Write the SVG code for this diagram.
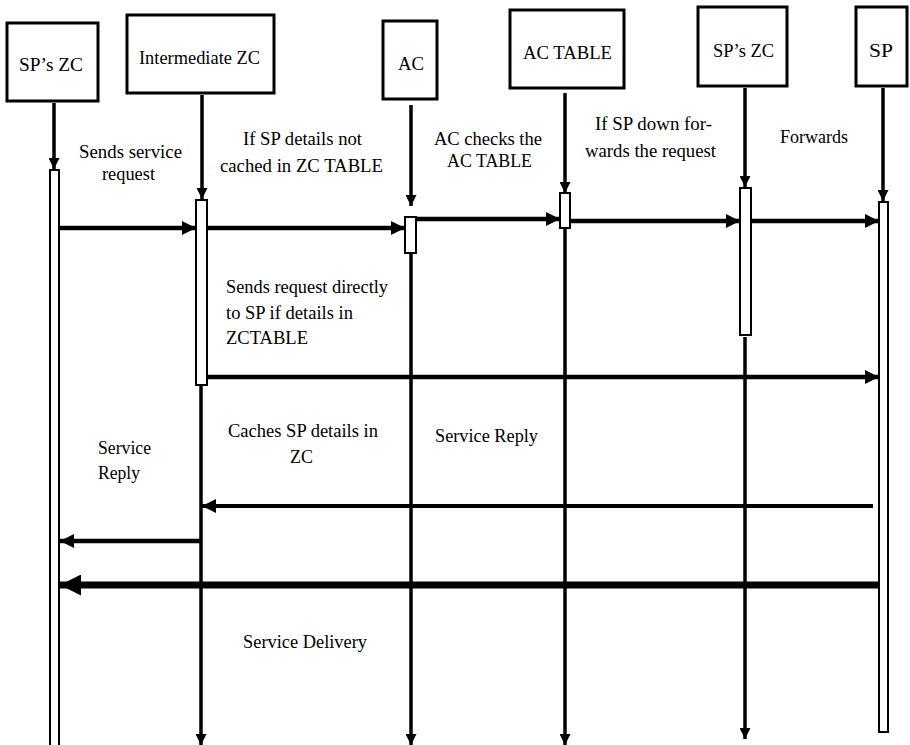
<svg xmlns="http://www.w3.org/2000/svg" width="910" height="745" viewBox="0 0 910 745">
<style>
.box{fill:#fff;stroke:#000;stroke-width:3}
.act{fill:#fff;stroke:#000;stroke-width:2}
.life{stroke:#000;stroke-width:3.5;fill:none}
.msg{stroke:#000;stroke-width:4.5;fill:none}
text{font-size:18px;fill:#000}
</style>
<defs>
<marker id="lh" markerUnits="userSpaceOnUse" markerWidth="11" markerHeight="11" refX="11" refY="5.5" orient="auto"><path d="M0,0 L11,5.5 L0,11 z" fill="#000"/></marker>
<marker id="mh" markerUnits="userSpaceOnUse" markerWidth="14" markerHeight="14" refX="14" refY="7" orient="auto"><path d="M0,0 L14,7 L0,14 z" fill="#000"/></marker>
<marker id="bh" markerUnits="userSpaceOnUse" markerWidth="21" markerHeight="21" refX="21" refY="10.5" orient="auto"><path d="M0,0 L21,10.5 L0,21 z" fill="#000"/></marker>
</defs>
<rect width="910" height="745" fill="#fff"/>

<g id="connectors">
<line class="life" x1="54" y1="103" x2="54" y2="169" marker-end="url(#lh)"/>
<line class="life" x1="202" y1="95" x2="202" y2="199" marker-end="url(#lh)"/>
<line class="life" x1="201" y1="386" x2="201" y2="745" marker-end="url(#lh)"/>
<line class="life" x1="411" y1="105" x2="411" y2="206" marker-end="url(#lh)"/>
<line class="life" x1="411" y1="254" x2="411" y2="745" marker-end="url(#lh)"/>
<line class="life" x1="565" y1="93" x2="565" y2="193" marker-end="url(#lh)"/>
<line class="life" x1="565" y1="229" x2="565" y2="745" marker-end="url(#lh)"/>
<line class="life" x1="745" y1="88" x2="745" y2="187" marker-end="url(#lh)"/>
<line class="life" x1="745" y1="337" x2="745" y2="739" marker-end="url(#lh)"/>
<line class="life" x1="883" y1="88" x2="883" y2="201" marker-end="url(#lh)"/>
<line class="msg" x1="60" y1="228" x2="196" y2="228" marker-end="url(#mh)"/>
<line class="msg" x1="208" y1="228" x2="405" y2="228" marker-end="url(#mh)"/>
<line class="msg" x1="417" y1="219" x2="560" y2="219" marker-end="url(#mh)"/>
<line class="msg" x1="571" y1="221" x2="740" y2="221" marker-end="url(#mh)"/>
<line class="msg" x1="752" y1="221" x2="879" y2="221" marker-end="url(#mh)"/>
<line class="msg" x1="208" y1="377" x2="879" y2="377" marker-end="url(#mh)"/>
<line class="msg" style="stroke-width:4" x1="873" y1="506" x2="202" y2="506" marker-end="url(#mh)"/>
<line class="msg" x1="201" y1="541" x2="60" y2="541" marker-end="url(#mh)"/>
<line class="msg" style="stroke-width:7" x1="880" y1="585" x2="60" y2="585" marker-end="url(#bh)"/>
</g>

<g font-family="Liberation Serif, Times New Roman, serif">
<g id="node-spzc1">
<rect class="box" x="7" y="23" width="91" height="78"/>
<text x="19" y="71" textLength="64" lengthAdjust="spacingAndGlyphs">SP’s ZC</text>
<rect class="act" x="50" y="170" width="9" height="580"/>
</g>
<g id="node-intzc">
<rect class="box" x="127" y="15" width="147" height="78"/>
<text x="139" y="64" textLength="121" lengthAdjust="spacingAndGlyphs">Intermediate ZC</text>
<rect class="act" x="196" y="200" width="11" height="185"/>
</g>
<g id="node-ac">
<rect class="box" x="383" y="21" width="54" height="78"/>
<text x="398" y="70" textLength="26" lengthAdjust="spacingAndGlyphs">AC</text>
<rect class="act" x="405" y="217" width="11" height="36"/>
</g>
<g id="node-actable">
<rect class="box" x="510" y="10" width="114" height="78"/>
<text x="523" y="59" textLength="89" lengthAdjust="spacingAndGlyphs">AC TABLE</text>
<rect class="act" x="560" y="193" width="10" height="35"/>
</g>
<g id="node-spzc2">
<rect class="box" x="698" y="7" width="89" height="79"/>
<text x="713" y="57" textLength="61" lengthAdjust="spacingAndGlyphs">SP’s ZC</text>
<rect class="act" x="740" y="188" width="11" height="147"/>
</g>
<g id="node-sp">
<rect class="box" x="856" y="7" width="51" height="79"/>
<text x="869" y="57" textLength="24" lengthAdjust="spacingAndGlyphs">SP</text>
<rect class="act" x="879" y="202" width="9" height="530"/>
</g>

<g id="labels">
<text x="79" y="158" textLength="103" lengthAdjust="spacingAndGlyphs">Sends service</text>
<text x="102" y="180" textLength="53" lengthAdjust="spacingAndGlyphs">request</text>
<text x="243" y="145" textLength="119" lengthAdjust="spacingAndGlyphs">If SP details not</text>
<text x="220" y="172" textLength="163" lengthAdjust="spacingAndGlyphs">cached in ZC TABLE</text>
<text x="434" y="145" textLength="108" lengthAdjust="spacingAndGlyphs">AC checks the</text>
<text x="447" y="167" textLength="85" lengthAdjust="spacingAndGlyphs">AC TABLE</text>
<text x="595" y="130" textLength="117" lengthAdjust="spacingAndGlyphs">If SP down for-</text>
<text x="585" y="157" textLength="131" lengthAdjust="spacingAndGlyphs">wards the request</text>
<text x="780" y="143" textLength="68" lengthAdjust="spacingAndGlyphs">Forwards</text>
<text x="226" y="293" textLength="162" lengthAdjust="spacingAndGlyphs">Sends request directly</text>
<text x="226" y="319" textLength="127" lengthAdjust="spacingAndGlyphs">to SP if details in</text>
<text x="226" y="344" textLength="82" lengthAdjust="spacingAndGlyphs">ZCTABLE</text>
<text x="228" y="437" textLength="150" lengthAdjust="spacingAndGlyphs">Caches SP details in</text>
<text x="290" y="463" textLength="23" lengthAdjust="spacingAndGlyphs">ZC</text>
<text x="435" y="442" textLength="103" lengthAdjust="spacingAndGlyphs">Service Reply</text>
<text x="98" y="454" textLength="53" lengthAdjust="spacingAndGlyphs">Service</text>
<text x="98" y="479" textLength="42" lengthAdjust="spacingAndGlyphs">Reply</text>
<text x="243" y="648" textLength="124" lengthAdjust="spacingAndGlyphs">Service Delivery</text>
</g>
</g>
</svg>
